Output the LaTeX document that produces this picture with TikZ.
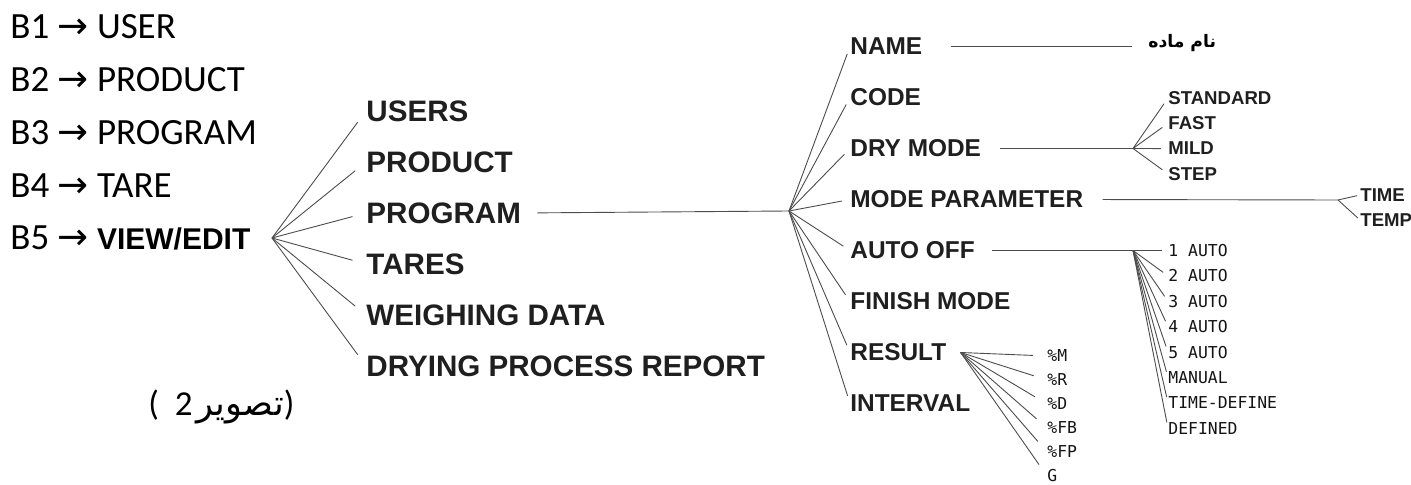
\documentclass[tikz,border=0pt]{standalone}
\usepackage{fontspec}
\setmainfont{Carlito}
\newfontfamily\headfont{Liberation Sans}
\newfontfamily\lcdfont{DejaVu Sans Mono}
\newfontfamily\symfont{DejaVu Sans}
\newfontfamily\arabicfont[Script=Arabic]{DejaVu Sans}
\TeXXeTstate=1
\newcommand\keyarrow{{\symfont →}}

\begin{document}
\begin{tikzpicture}[x=0.5pt,y=-0.5pt,
  every node/.style={anchor=west,inner sep=0pt},
  key/.style={font=\fontsize{18.5}{22}\selectfont},
  menu/.style={font=\headfont\bfseries\fontsize{14.8}{18}\selectfont,text=black!88},
  item/.style={font=\headfont\bfseries\fontsize{12.2}{15}\selectfont,text=black!88},
  choice/.style={font=\headfont\bfseries\fontsize{9.3}{11}\selectfont,text=black!88},
  lcd/.style={font=\lcdfont\fontsize{8.2}{10}\selectfont,text=black!92},
  link/.style={draw=black!70,line width=0.45pt}]
\useasboundingbox (0,0) rectangle (1411,485);
\clip (0,0) rectangle (1411,485);

% keys
\foreach \k/\t in {1/USER,2/PRODUCT,3/PROGRAM,4/TARE}
  \node[key] (b\k) at (10,{27+52.75*(\k-1)}) {B\k\ \keyarrow\ \t};
\node[key] (b5) at (10,238) {B5 \keyarrow\ {\headfont\bfseries\fontsize{15}{18}\selectfont VIEW/EDIT}};
\node[key,font=\fontsize{17.5}{20}\selectfont] (cap) at (148,407) {(\ \ 2\hspace{2pt}{\arabicfont\beginR تصویر\endR})};

% view/edit menu
\coordinate (vroot) at (272,238);
\foreach \n/\t [count=\i from 0] in {users/USERS,product/PRODUCT,program/PROGRAM,tares/TARES,weigh/WEIGHING DATA,report/DRYING PROCESS REPORT}{
  \node[menu] (\n) at (366,{111+51*\i}) {\t};
  \draw[link,shorten >=7pt] (vroot) -- (\n.west);
}

% program
\coordinate (proot) at (789,211);
\draw[link,shorten <=8pt] (program.east) -- (proot);
\foreach \n/\t [count=\i from 0] in {name/NAME,code/CODE,dry/DRY MODE,param/MODE PARAMETER,off/AUTO OFF,finish/FINISH MODE,result/RESULT,interval/INTERVAL}{
  \node[item] (\n) at (850,{46.5+51*\i}) {\t};
  \draw[link,shorten >=4pt] (proot) -- (\n.west);
}

% name
\node[font=\arabicfont\bfseries\fontsize{8.6}{11}\selectfont] (fa) at (1148,43) {\beginR نام ماده\endR};
\draw[link,shorten <=14pt,shorten >=8pt] (name.east) -- (name.east -| fa.west);

% dry mode
\coordinate (dryroot) at (1133,148.5);
\draw[link,shorten <=9.5pt] (dry.east) -- (dryroot);
\foreach \n/\t [count=\i from 0] in {std/STANDARD,fast/FAST,mild/MILD,stp/STEP}{
  \node[choice] (\n) at (1168,{98+25.3*\i}) {\t};
  \draw[link,shorten >=3.5pt] (dryroot) -- (\n.west);
}

% mode parameter
\coordinate (parroot) at (1338,200);
\draw[link,shorten <=9.5pt] (param.east) -- (parroot);
\foreach \n/\t/\y in {time/TIME/195,temp/TEMP/220}{
  \node[choice] (\n) at (1360,\y) {\t};
  \draw[link,shorten >=1.5pt] (parroot) -- (\n.west);
}

% auto off
\coordinate (offroot) at (1133,250.5);
\draw[link,shorten <=8.5pt] (off.east) -- (offroot);
\foreach \t [count=\i from 0] in {1 AUTO,2 AUTO,3 AUTO,4 AUTO,5 AUTO,MANUAL,TIME-DEFINE,DEFINED}{
  \node[lcd] (a\i) at (1168,{250.5+25.4*\i}) {\t};
  \draw[link,shorten >=3pt] (offroot) -- (a\i.west);
}

% result
\coordinate (resroot) at ([xshift=7pt]result.east);
\foreach \t [count=\i from 0] in {\%M,\%R,\%D,\%FB,\%FP,G}{
  \node[lcd] (r\i) at (1047,{356+24*\i}) {\t};
  \draw[link,shorten >=7pt] (resroot) -- (r\i.west);
}
\end{tikzpicture}
\end{document}
